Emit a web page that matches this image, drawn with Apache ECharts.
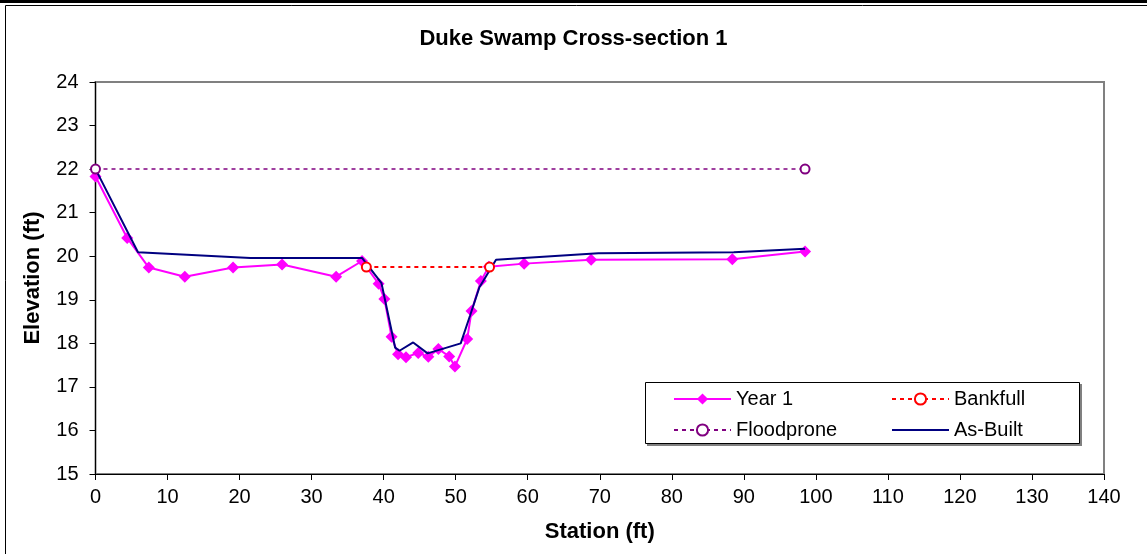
<!DOCTYPE html>
<html>
<head>
<meta charset="utf-8">
<script src="https://cdn.jsdelivr.net/npm/echarts@6/dist/echarts.min.js"></script>
<style>
  html, body { margin: 0; padding: 0; background: #fff; }
  #main { width: 1147px; height: 554px; }
</style>
</head>
<body>
<div id="main"></div>
<script>
// station / elevation values
const year1X = [0, 4.4, 7.4, 12.4, 19.1, 25.9, 33.4, 37.0, 39.3, 40.1, 41.1, 42.0, 43.1, 44.8, 46.2, 47.6, 49.1, 49.9, 51.6, 52.2, 53.5, 54.6, 59.5, 68.8, 88.4, 98.5];
const year1Y = [21.83, 20.42, 19.74, 19.53, 19.74, 19.81, 19.53, 19.89, 19.37, 19.02, 18.15, 17.75, 17.68, 17.78, 17.69, 17.87, 17.70, 17.47, 18.1, 18.74, 19.43, 19.76, 19.83, 19.92, 19.93, 20.11];

const asBuiltX = [0, 5.9, 21.5, 37.0, 39.7, 41.6, 42.2, 44.1, 46.1, 50.7, 52.0, 53.3, 55.6, 69.8, 88.6, 98.5];
const asBuiltY = [22.0, 20.09, 19.96, 19.96, 19.38, 17.9, 17.83, 18.02, 17.77, 18.0, 18.64, 19.29, 19.92, 20.07, 20.09, 20.17];

const bankfullX = [37.6, 54.7];
const bankfullY = [19.75, 19.75];

const floodX = [0, 98.5];
const floodY = [22.0, 22.0];

const zip = (xs, ys) => xs.map((x, i) => [x, ys[i]]);

let chart = echarts.init(document.getElementById('main'));

const font = 'Liberation Sans, Arial, sans-serif';

let legendText = { fontFamily: font, fontSize: 20, color: '#000' };

let option = {
  animation: false,
  backgroundColor: '#fff',
  title: {
    text: 'Duke Swamp Cross-section 1',
    left: 'center',
    top: 23,
    textStyle: { fontFamily: font, fontSize: 22, fontWeight: 'bold', color: '#000' }
  },
  grid: {
    left: 95.5, right: 43, top: 82, bottom: 80,
    show: true, borderColor: '#808080', borderWidth: 2
  },
  legend: [
    {
      left: 673, top: 389, orient: 'vertical', padding: 0,
      itemWidth: 57, itemHeight: 14, itemGap: 11,
      data: ['Year 1', 'Floodprone'],
      textStyle: legendText
    },
    {
      left: 891, top: 389, orient: 'vertical', padding: 0,
      itemWidth: 57, itemHeight: 14, itemGap: 11,
      data: ['Bankfull', { name: 'As-Built', icon: 'path://M0,0L57,0L57,2L0,2Z' }],
      textStyle: legendText
    }
  ],
  xAxis: {
    type: 'value', min: 0, max: 140, interval: 10,
    name: 'Station (ft)', nameLocation: 'middle', nameGap: 47,
    nameTextStyle: { fontFamily: font, fontSize: 22, fontWeight: 'bold', color: '#000' },
    axisLine: { lineStyle: { color: '#000', width: 1 } },
    axisTick: { length: 6, lineStyle: { color: '#000' } },
    axisLabel: { fontFamily: font, fontSize: 20, color: '#000', margin: 13 },
    splitLine: { show: false }
  },
  yAxis: {
    type: 'value', min: 15, max: 24, interval: 1,
    name: 'Elevation (ft)', nameLocation: 'middle', nameGap: 52,
    nameTextStyle: { fontFamily: font, fontSize: 22, fontWeight: 'bold', color: '#000' },
    axisLine: { show: true, lineStyle: { color: '#000', width: 1 } },
    axisTick: { show: true, length: 6, lineStyle: { color: '#000' } },
    axisLabel: { fontFamily: font, fontSize: 20, color: '#000', margin: 17 },
    splitLine: { show: false }
  },
  graphic: [
    { type: 'rect', shape: { x: 0, y: 0, width: 1147, height: 3 }, style: { fill: '#000' } },
    { type: 'rect', shape: { x: 5.5, y: 5.5, width: 1200, height: 600 }, style: { fill: 'none', stroke: '#000', lineWidth: 1 } },
    { type: 'rect', z: -1, shape: { x: 647, y: 384, width: 435, height: 62 }, style: { fill: '#808080' } },
    { type: 'rect', z: 0, shape: { x: 645.5, y: 382.5, width: 434, height: 61 }, style: { fill: '#fff', stroke: '#000', lineWidth: 1 } }
  ],
  series: [
    {
      name: 'Year 1', type: 'line', data: zip(year1X, year1Y),
      symbol: 'diamond', symbolSize: 12,
      itemStyle: { color: '#FF00FF' },
      lineStyle: { color: '#FF00FF', width: 2 },
      z: 3
    },
    {
      name: 'Bankfull', type: 'line', data: zip(bankfullX, bankfullY),
      symbol: 'emptyCircle', symbolSize: 9,
      itemStyle: { color: '#FF0000', borderWidth: 1.5 },
      lineStyle: { color: '#FF0000', width: 2, type: [4, 4] },
      z: 5
    },
    {
      name: 'Floodprone', type: 'line', data: zip(floodX, floodY),
      symbol: 'emptyCircle', symbolSize: 9,
      itemStyle: { color: '#800080', borderWidth: 1.5 },
      lineStyle: { color: '#800080', width: 1.5, type: [4, 4] },
      z: 5
    },
    {
      name: 'As-Built', type: 'line', data: zip(asBuiltX, asBuiltY),
      showSymbol: false, symbol: 'none',
      itemStyle: { color: '#000080' },
      lineStyle: { color: '#000080', width: 2 },
      z: 4
    }
  ]
};

chart.setOption(option);
</script>
</body>
</html>
